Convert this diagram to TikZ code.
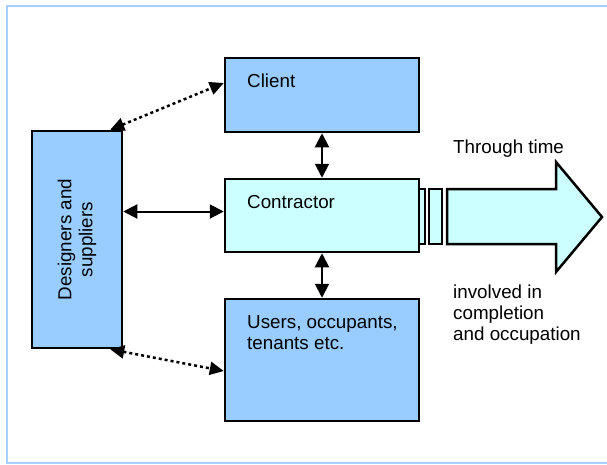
\documentclass[tikz,border=0pt]{standalone}
\usepackage{fontspec}
\setmainfont{Liberation Sans}
\usepackage{tikz}
\usetikzlibrary{arrows.meta, positioning, calc}
\definecolor{boxblue}{HTML}{99CCFF}
\definecolor{paleblue}{HTML}{CCFFFF}
\definecolor{framec}{HTML}{A8D0FF}
\begin{document}
\begin{tikzpicture}[
    x=1pt, y=-1pt,
    font=\fontsize{18.8}{21}\selectfont,
    box/.style={draw, line width=2.5pt, fill=boxblue, inner sep=0pt},
    txt/.style={anchor=north west, inner sep=0pt, align=left},
    dbl/.style={{Triangle[length=14pt,width=14pt]}-{Triangle[length=14pt,width=14pt]}, line width=2pt},
    dots/.style={{Triangle[length=14pt,width=13pt]}-{Triangle[length=14pt,width=13pt]}, line width=2.5pt, dash pattern=on 3pt off 3pt}
]
    \useasboundingbox (0,0) rectangle (607,464);
    \draw[framec, line width=2pt] (660,6) -- (7,6) -- (7,463) -- (660,463);
    % the four parties
    \node[box, minimum width=194pt, minimum height=74pt] (client) at (322,95) {};
    \node[box, fill=paleblue, minimum width=194pt, minimum height=73pt] (contractor) at (322,215.5) {};
    \node[box, minimum width=194pt, minimum height=122pt] (users) at (322,360) {};
    \node[box, minimum width=90pt, minimum height=217pt] (designers) at (77,239.5) {};
    \node[txt] (clienttxt) at (247,74) {Client};
    \node[txt] (contractortxt) at (247,195) {Contractor};
    \node[txt] (userstxt) at (247,315) {Users, occupants,\\tenants etc.};
    \node[rotate=90, align=center, inner sep=0pt] (designerstxt) at (designers) {Designers and\\suppliers};
    % arrow through time
    \draw[line width=2.5pt, fill=paleblue] (419,189) rectangle (425,244);
    \draw[line width=2.5pt, fill=paleblue] (429,189) rectangle (442,244);
    \draw[line width=2.5pt, fill=paleblue] (447,189) -- (556,189) -- (556,162) -- (602,217)
        -- (556,272) -- (556,244) -- (447,244) -- cycle;
    \node[txt] (timetxt) at (453,140) {Through time};
    \node[txt] (involvedtxt) at (453,285) {involved in\\completion\\and occupation};
    % links
    \draw[dbl] (client) -- (contractor);
    \draw[dbl] (contractor) -- (users);
    \path (contractor.west) ++(0,-4) coordinate (cleft);
    \draw[dbl] (designers.east |- cleft) -- (cleft);
    \draw[dots] ([xshift=-13pt]designers.north east) -- ([yshift=12pt]client.west);
    \draw[dots] ([xshift=-13pt]designers.south east) -- ([yshift=-11pt]users.west);
\end{tikzpicture}
\end{document}
